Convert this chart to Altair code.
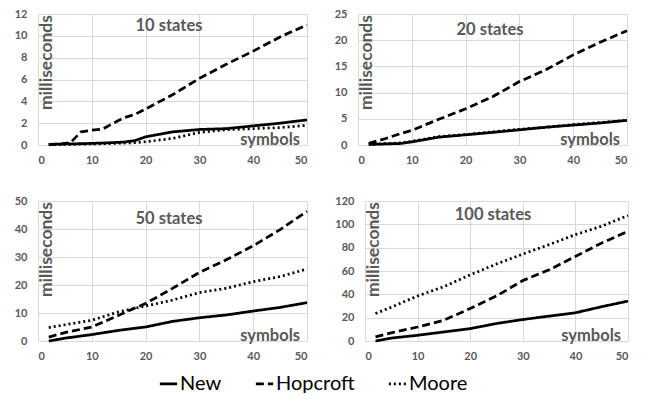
import altair as alt
import pandas as pd

ALGOS = ["New", "Hopcroft", "Moore"]

# 10 states
X10 = [2, 4, 6, 8, 10, 12, 14, 16, 18, 20, 25, 30, 35, 40, 45, 50]
NEW10 = [0.05, 0.08, 0.1, 0.12, 0.15, 0.18, 0.22, 0.27, 0.4, 0.75, 1.2, 1.42, 1.5, 1.75, 2.0, 2.3]
HOP10 = [0.05, 0.1, 0.2, 1.2, 1.35, 1.45, 2.0, 2.5, 2.8, 3.3, 4.6, 6.1, 7.4, 8.6, 9.9, 11.0]
MOO10 = [0.02, 0.04, 0.06, 0.08, 0.1, 0.12, 0.15, 0.18, 0.22, 0.3, 0.6, 1.15, 1.4, 1.5, 1.6, 1.8]

# 20 states
X20 = [2, 5, 8, 10, 15, 20, 25, 30, 35, 40, 45, 50]
NEW20 = [0.1, 0.2, 0.3, 0.6, 1.5, 1.95, 2.4, 2.9, 3.4, 3.8, 4.2, 4.7]
HOP20 = [0.3, 1.2, 2.2, 2.8, 4.9, 6.9, 9.2, 12.1, 14.4, 17.2, 19.6, 21.8]
MOO20 = [0.1, 0.25, 0.4, 0.7, 1.6, 2.0, 2.5, 3.0, 3.4, 3.9, 4.3, 4.7]

# 50 states
X50 = [2, 5, 10, 15, 20, 25, 30, 35, 40, 45, 50]
NEW50 = [0.0, 1.0, 2.3, 3.8, 5.0, 7.0, 8.3, 9.3, 10.7, 12.0, 13.7]
HOP50 = [1.4, 3.0, 5.0, 9.2, 13.4, 18.8, 24.5, 29.0, 34.0, 39.8, 46.3]
MOO50 = [4.8, 5.8, 7.4, 10.4, 12.5, 14.6, 17.3, 18.8, 21.2, 23.0, 25.7]

# 100 states
X100 = [2, 5, 10, 15, 20, 25, 30, 35, 40, 45, 50]
NEW100 = [0.0, 2.5, 4.9, 7.8, 10.6, 15.0, 18.4, 21.3, 24.2, 29.4, 34.2]
HOP100 = [3.5, 7.0, 12.0, 17.8, 27.9, 38.6, 51.8, 61.0, 72.5, 84.0, 94.0]
MOO100 = [23.6, 29.0, 38.6, 46.6, 56.7, 66.0, 74.5, 82.6, 91.2, 98.4, 107.6]

X_TICKS = [0, 10, 20, 30, 40, 50]

rows = []
def add(panel, xs, series):
    for algo, ys in zip(ALGOS, series):
        for x, y in zip(xs, ys):
            rows.append({"panel": panel, "algo": algo, "symbols": x, "ms": y})

add("10 states", X10, [NEW10, HOP10, MOO10])
add("20 states", X20, [NEW20, HOP20, MOO20])
add("50 states", X50, [NEW50, HOP50, MOO50])
add("100 states", X100, [NEW100, HOP100, MOO100])
df = pd.DataFrame(rows)

GREY = "#595959"
FONT = "Lato"

legend = alt.Legend(
    orient="none", legendX=120, legendY=359, direction="horizontal", title=None,
    symbolType="stroke", symbolStrokeColor="black", symbolStrokeWidth=2.75,
    symbolSize=300, labelFont=FONT, labelFontSize=20, labelColor="black",
    labelOffset=1, columnPadding=28,
)


def panel(key, ymax, ystep, w, h, tx, ty):
    base = alt.Chart(df[df.panel == key])
    lines = base.mark_line(color="black", strokeWidth=2.75).encode(
        x=alt.X("symbols:Q", scale=alt.Scale(domain=[0, 50], nice=False),
                axis=alt.Axis(values=X_TICKS, title=None)),
        y=alt.Y("ms:Q", scale=alt.Scale(domain=[0, ymax], nice=False),
                axis=alt.Axis(values=list(range(0, ymax + 1, ystep)), title=None,
                              minExtent=30, maxExtent=30)),
        strokeDash=alt.StrokeDash(
            "algo:N",
            scale=alt.Scale(domain=ALGOS, range=[[1, 0], [8, 4], [2, 3]]),
            legend=legend,
        ),
    )
    title = alt.Chart(pd.DataFrame({"t": [key]})).mark_text(
        font=FONT, fontWeight="bold", fontSize=16.5, color=GREY, baseline="middle"
    ).encode(x=alt.value(tx), y=alt.value(ty), text="t:N")
    ylab = alt.Chart(pd.DataFrame({"t": ["milliseconds"]})).mark_text(
        font=FONT, fontWeight="bold", fontSize=17.5, color=GREY, angle=270,
        align="right", baseline="middle"
    ).encode(x=alt.value(9), y=alt.value(1), text="t:N")
    xlab = alt.Chart(pd.DataFrame({"t": ["symbols"]})).mark_text(
        font=FONT, fontWeight="bold", fontSize=16.5, color=GREY,
        align="right", baseline="alphabetic"
    ).encode(x=alt.value(w - 7), y=alt.value(h), text="t:N")
    return alt.layer(lines, title, ylab, xlab).properties(width=w, height=h)


p1 = panel("10 states", 12, 2, 269, 131, 131, 12)
p2 = panel("20 states", 25, 5, 269, 131, 132, 16)
p3 = panel("50 states", 50, 10, 269, 140, 131, 18)
p4 = panel("100 states", 120, 20, 263, 140, 128, 14)

row1 = alt.hconcat(p1, p2, spacing=15)
row2 = alt.hconcat(p3, p4, spacing=21)

chart = alt.vconcat(row1, row2, spacing=30).properties(
    padding={"left": 0, "top": 0, "right": 0, "bottom": 0}
).configure_view(stroke=None).configure_axis(
    grid=True, gridColor="#d9d9d9", gridWidth=1, domain=False, ticks=False,
    labelFont=FONT, labelFontWeight="bold", labelFontSize=11, labelColor=GREY,
).configure_axisX(labelPadding=9).configure_axisY(labelPadding=11)

chart.save("out.html", embed_options={"renderer": "svg", "actions": False})
